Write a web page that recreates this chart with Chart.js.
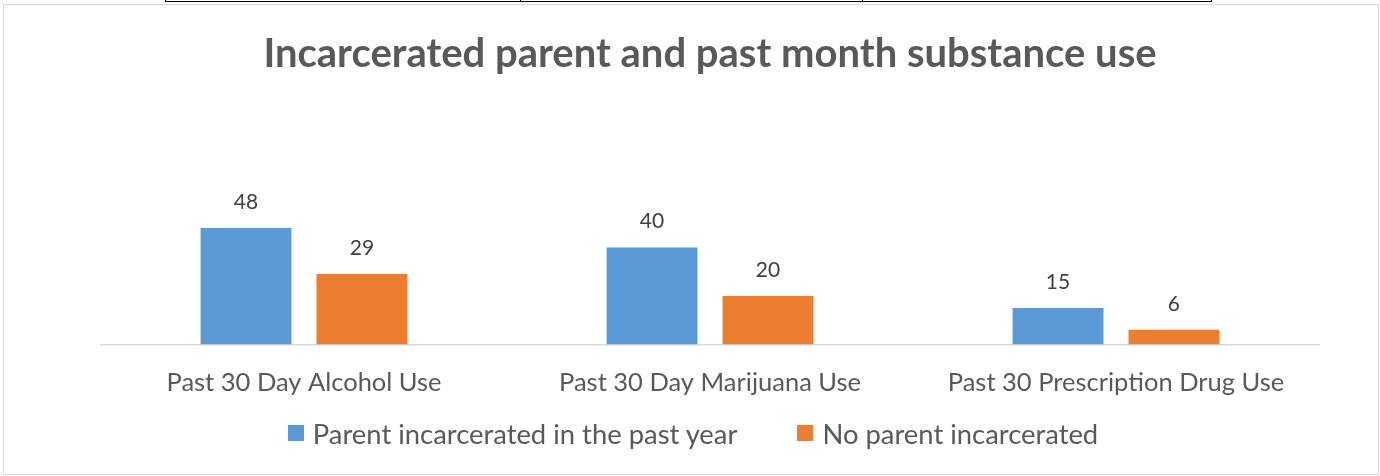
<!DOCTYPE html>
<html>
<head>
<meta charset="utf-8">
<script src="https://cdn.jsdelivr.net/npm/chart.js@4"></script>
<style>
  html, body { margin: 0; padding: 0; background: #fff; }
  #wrap { position: relative; width: 1380px; height: 476px; overflow: hidden; font-family: Lato, "Open Sans", sans-serif; }
  #frame { position: absolute; left: 3px; top: 4px; width: 1374px; height: 469px; border: 1px solid #d9d9d9; }
  #tableEdge { position: absolute; left: 165px; top: -2px; width: 1045px; height: 3px; border: 1.5px solid #000; border-top: none; }
  .cellDiv { position: absolute; top: -2px; width: 0; height: 4px; border-left: 1.5px solid #000; }
  canvas { position: absolute; left: 0; top: 0; }
  #legend { position: absolute; left: 0; width: 1386px; top: 416px; height: 34px; display: flex; justify-content: center; align-items: center; gap: 60px; color: #595959; font-size: 27.4px; }
  #legend .item { display: flex; align-items: center; gap: 9px; white-space: nowrap; }
  #legend .swatch { width: 16px; height: 16px; }
</style>
</head>
<body>
<div id="wrap">
  <div id="frame"></div>
  <div id="tableEdge"></div>
  <div class="cellDiv" style="left:520px"></div>
  <div class="cellDiv" style="left:862px"></div>
  <canvas id="chart" width="1380" height="476"></canvas>
  <div id="legend"></div>
</div>
<script>
const categories = ['Past 30 Day Alcohol Use', 'Past 30 Day Marijuana Use', 'Past 30 Prescription Drug Use'];
const parentIncarcerated = [48, 40, 15];
const noParentIncarcerated = [29, 20, 6];
const seriesNames = ['Parent incarcerated in the past year', 'No parent incarcerated'];
const seriesColors = ['#5b9bd5', '#ed7d31'];

const FONT = 'Lato, "Open Sans", sans-serif';

// value labels above each bar
const barValues = {
  id: 'barValues',
  afterDatasetsDraw(chart) {
    const ctx = chart.ctx;
    ctx.save();
    ctx.font = '21px ' + FONT;
    ctx.fillStyle = '#404040';
    ctx.textAlign = 'center';
    ctx.textBaseline = 'middle';
    chart.data.datasets.forEach((ds, i) => {
      chart.getDatasetMeta(i).data.forEach((bar, j) => {
        ctx.fillText(ds.data[j], bar.x, bar.y - 26);
      });
    });
    ctx.restore();
  }
};

const chart = new Chart(document.getElementById('chart'), {
  type: 'bar',
  data: {
    labels: categories,
    datasets: [
      { label: seriesNames[0], data: parentIncarcerated, backgroundColor: seriesColors[0] },
      { label: seriesNames[1], data: noParentIncarcerated, backgroundColor: seriesColors[1] }
    ]
  },
  options: {
    responsive: false,
    animation: false,
    layout: { padding: { left: 101, right: 61, top: 30, bottom: 55 } },
    datasets: { bar: { categoryPercentage: 0.571, barPercentage: 0.784 } },
    scales: {
      x: {
        grid: { display: false, drawTicks: false },
        border: { color: '#d9d9d9', width: 1.5 },
        ticks: { color: '#595959', font: { family: FONT, size: 25.5 }, padding: 23 }
      },
      y: { display: false, min: 0, max: 60 }
    },
    plugins: {
      title: {
        display: true,
        text: 'Incarcerated parent and past month substance use',
        color: '#595959',
        font: { family: FONT, size: 40, weight: 'bold' },
        padding: { top: 0, bottom: 121 }
      },
      legend: { display: false },
      tooltip: { enabled: false }
    }
  },
  plugins: [barValues]
});

// legend under the axis, one entry per dataset
const legendEl = document.getElementById('legend');
chart.data.datasets.forEach(ds => {
  const item = document.createElement('div');
  item.className = 'item';
  item.innerHTML = `<span class="swatch" style="background:${ds.backgroundColor}"></span><span>${ds.label}</span>`;
  legendEl.appendChild(item);
});
</script>
</body>
</html>
